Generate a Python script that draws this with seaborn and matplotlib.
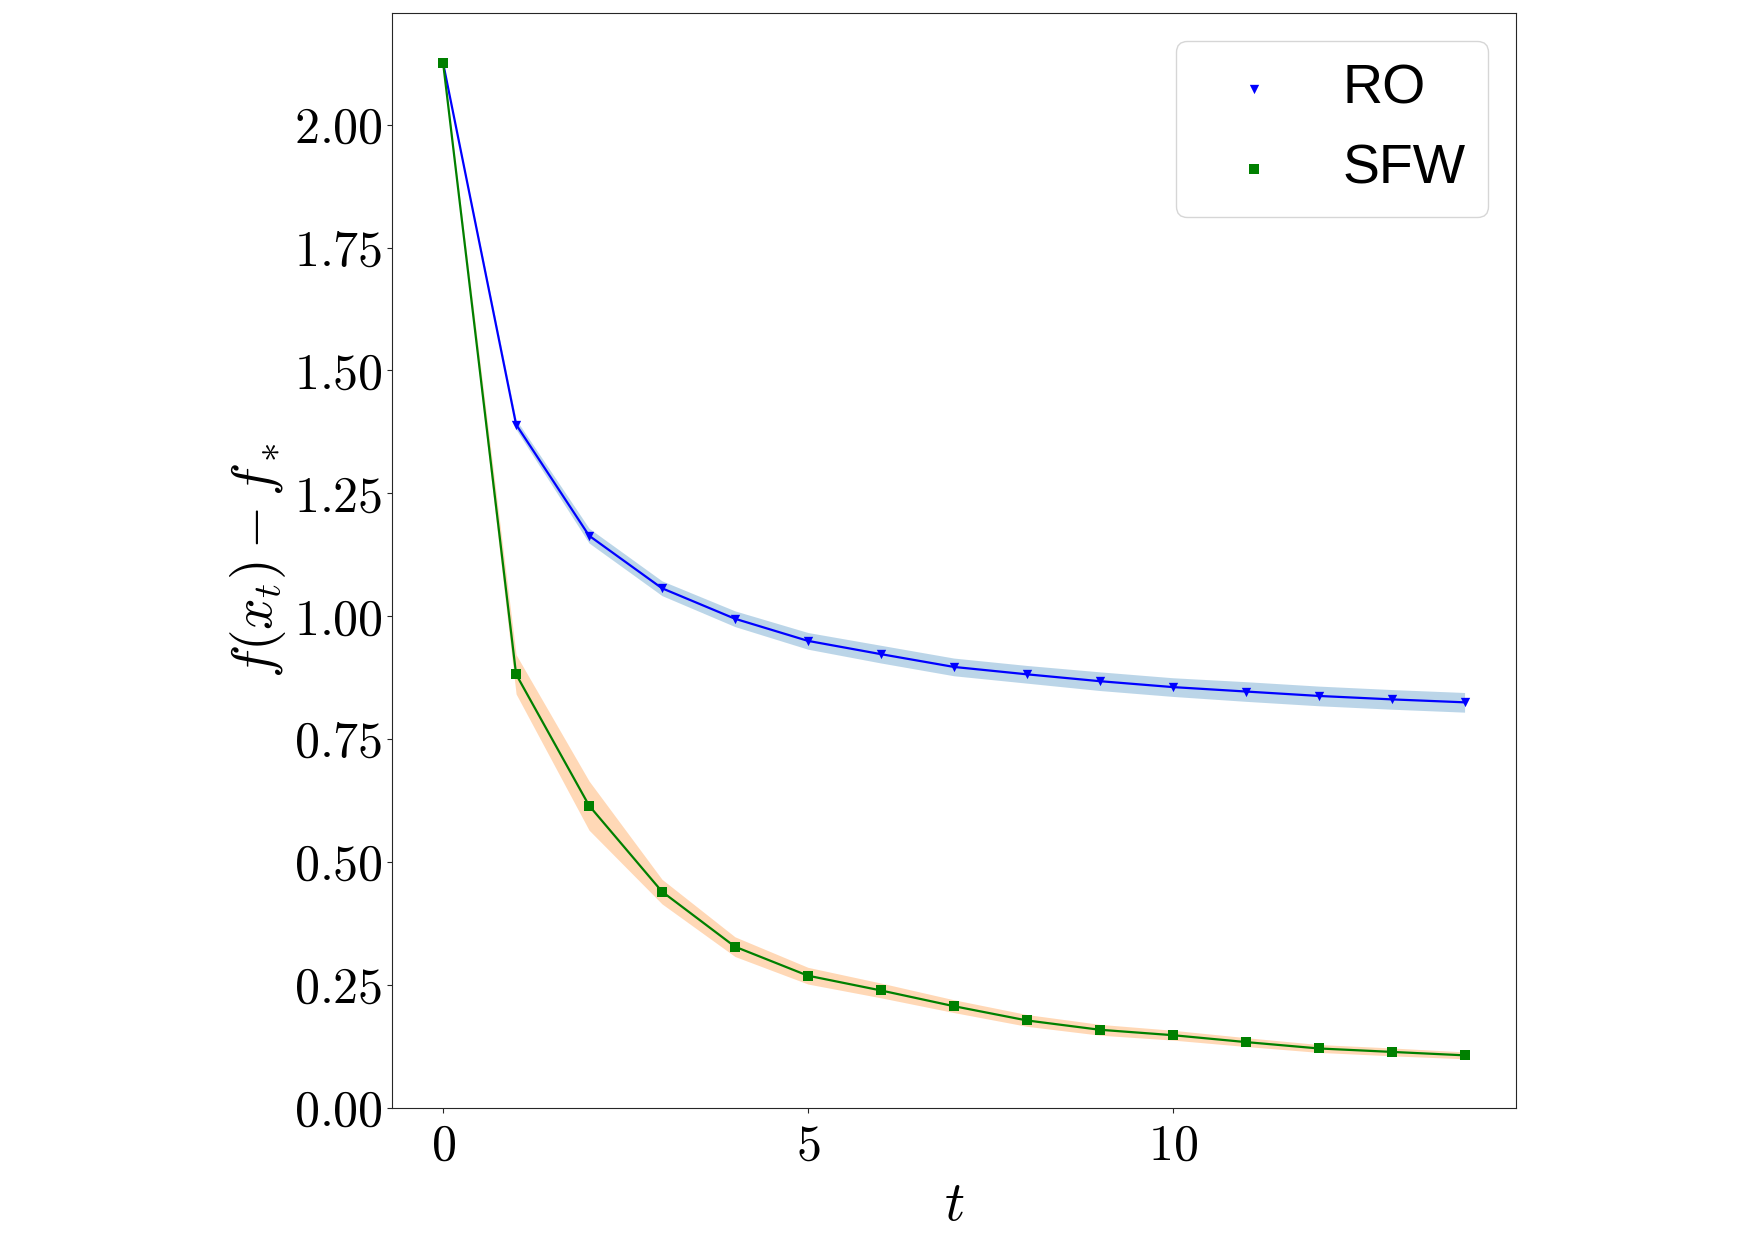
import matplotlib
matplotlib.use("Agg")
import matplotlib.pyplot as plt
from matplotlib.ticker import FuncFormatter, MultipleLocator
import numpy as np
import pandas as pd
import seaborn as sns

# iteration index
t = list(range(15))

# RO: mean gap and spread
ro_mean = [2.125, 1.390, 1.164, 1.057, 0.995, 0.950, 0.923, 0.897,
           0.882, 0.868, 0.856, 0.847, 0.838, 0.831, 0.825]
ro_std = [0.0, 0.010, 0.015, 0.015, 0.016, 0.017, 0.018, 0.018,
          0.018, 0.019, 0.019, 0.020, 0.020, 0.020, 0.020]

# SFW: mean gap and spread
sfw_mean = [2.125, 0.882, 0.615, 0.440, 0.328, 0.269, 0.239, 0.207,
            0.178, 0.159, 0.148, 0.134, 0.121, 0.114, 0.107]
sfw_std = [0.0, 0.040, 0.050, 0.025, 0.020, 0.017, 0.015, 0.013,
           0.012, 0.011, 0.010, 0.009, 0.008, 0.008, 0.007]


def plot_gap():
    sns.set_style("ticks")
    plt.rcParams["mathtext.fontset"] = "cm"
    plt.rcParams["font.family"] = ["Liberation Sans", "DejaVu Sans"]
    plt.rcParams["text.color"] = "black"
    plt.rcParams["axes.labelcolor"] = "black"
    plt.rcParams["xtick.labelcolor"] = "black"
    plt.rcParams["ytick.labelcolor"] = "black"

    ro = pd.DataFrame({"t": t, "gap": ro_mean, "std": ro_std})
    sfw = pd.DataFrame({"t": t, "gap": sfw_mean, "std": sfw_std})

    fig = plt.figure(figsize=(17.55, 12.4), dpi=100)
    ax = fig.add_axes([0.2234, 0.1065, 0.6402, 0.8827])

    # shaded spread
    ax.fill_between(ro["t"], ro["gap"] - ro["std"], ro["gap"] + ro["std"],
                    color="#1f77b4", alpha=0.3, linewidth=0)
    ax.fill_between(sfw["t"], sfw["gap"] - sfw["std"], sfw["gap"] + sfw["std"],
                    color="#ff7f0e", alpha=0.3, linewidth=0)

    # mean curves
    sns.lineplot(data=ro, x="t", y="gap", color="blue", linewidth=1.6, ax=ax)
    sns.scatterplot(data=ro, x="t", y="gap", color="blue", marker="v",
                    s=45, linewidth=0, label="RO", ax=ax, zorder=3)
    sns.lineplot(data=sfw, x="t", y="gap", color="green", linewidth=1.6, ax=ax)
    sns.scatterplot(data=sfw, x="t", y="gap", color="green", marker="s",
                    s=45, linewidth=0, label="SFW", ax=ax, zorder=3)

    ax.set_ylim(bottom=0)
    ax.xaxis.set_major_locator(MultipleLocator(5))
    ax.yaxis.set_major_locator(MultipleLocator(0.25))
    ax.xaxis.set_major_formatter(FuncFormatter(lambda v, p: f"${v:.0f}$"))
    ax.yaxis.set_major_formatter(FuncFormatter(lambda v, p: f"${v:.2f}$"))
    ax.tick_params(labelsize=36)
    ax.tick_params(axis="x", pad=8)

    ax.set_xlabel(r"$t$", fontsize=40, labelpad=7)
    ax.set_ylabel(r"$f(x_t) - f_*$", fontsize=40)

    ax.legend(loc="upper right", fontsize=40, frameon=True, handletextpad=0.6)

    fig.savefig("out.png", dpi=100)


def main():
    plot_gap()


if __name__ == "__main__":
    main()
